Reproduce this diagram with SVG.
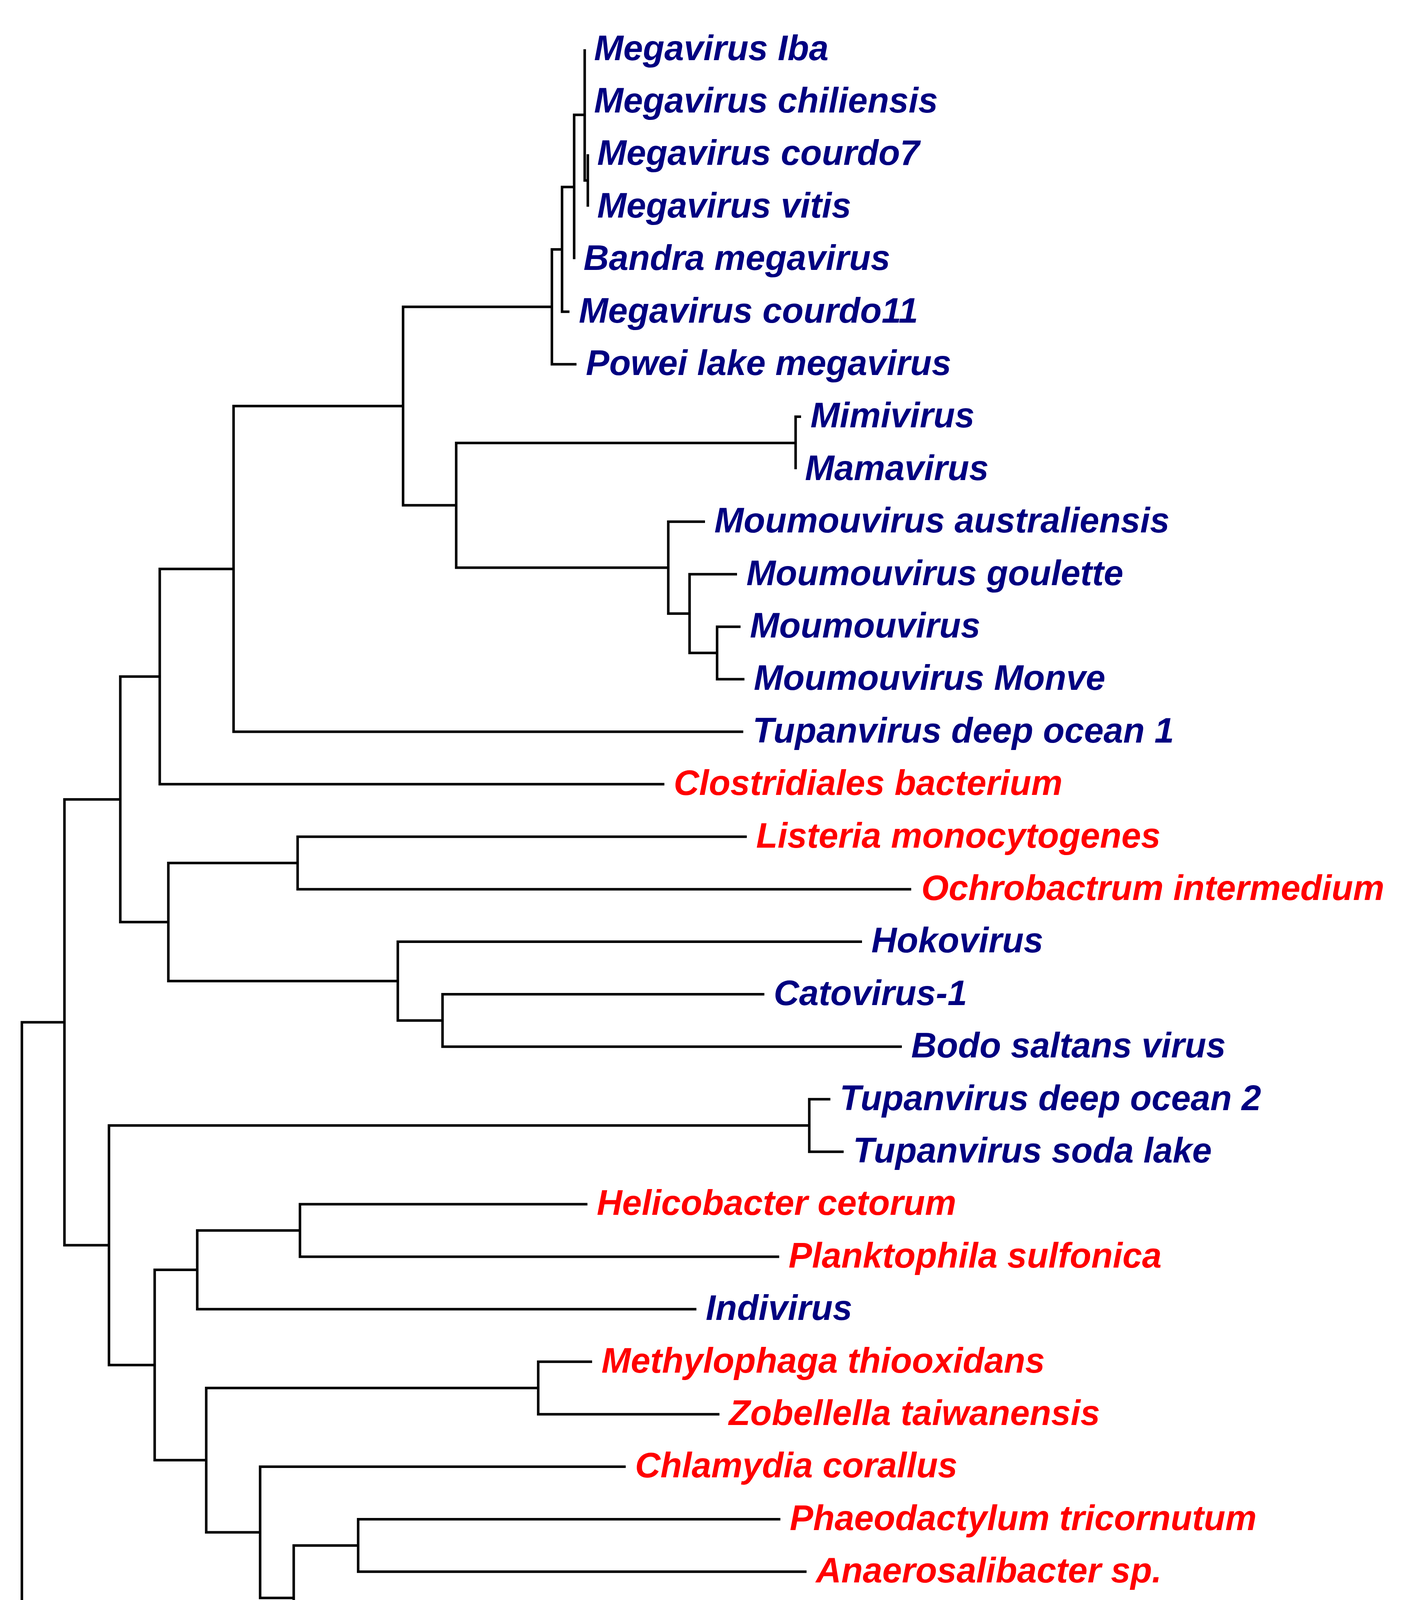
<svg xmlns="http://www.w3.org/2000/svg" width="3651" height="5154" viewBox="0 0 3651 5154">
<style>
.br{fill:none;stroke:#000;stroke-width:6.5;stroke-linejoin:miter;stroke-linecap:butt}
.tk{fill:none;stroke:#000;stroke-width:3.5}
.lb{font-family:"Liberation Sans",Arial,sans-serif;font-weight:bold;font-style:italic;font-size:90px}
.v{fill:#000080}
.b{fill:#FF0000}
.e{fill:#0000FF}
.sc{font-family:"Liberation Sans",Arial,sans-serif;font-size:62px;fill:#000}
</style>
<rect width="3651" height="5154" fill="#fff"/>
<g id="connectors">
<path class="br" d="M165 2617.1 H56 V4544.4 H694"/>
<path class="br" d="M308 2046.5 H165 V3187.8 H279"/>
<path class="br" d="M409 1732 H308 V2360.4 H431"/>
<path class="br" d="M598 1456.4 H409 V2007.6 H1701"/>
<path class="br" d="M1032 1039.5 H598 V1873.2 H1903"/>
<path class="br" d="M1413 785.4 H1032 V1293.6 H1168"/>
<path class="br" d="M1439 638.4 H1413 V932.4 H1476"/>
<path class="br" d="M1470 478.8 H1439 V798 H1458"/>
<path class="br" d="M1497 294 H1470 V663.6"/>
<path class="br" d="M1497 126 V462 H1505"/>
<path class="br" d="M1505 394.8 V529.2"/>
<path class="br" d="M2037 1134 H1168 V1453.2 H1711"/>
<path class="br" d="M2051 1066.8 H2037 V1201.2"/>
<path class="br" d="M1805 1335.6 H1711 V1570.8 H1765.5"/>
<path class="br" d="M1887 1470 H1765.5 V1671.6 H1836"/>
<path class="br" d="M1896 1604.4 H1836 V1738.8 H1906"/>
<path class="br" d="M762 2209.2 H431 V2511.6 H1018.5"/>
<path class="br" d="M1912 2142 H762 V2276.4 H2333"/>
<path class="br" d="M2207 2410.8 H1018.5 V2612.4 H1133"/>
<path class="br" d="M1957 2545.2 H1133 V2679.6 H2309"/>
<path class="br" d="M2072 2881.2 H279 V3494.4 H396"/>
<path class="br" d="M2126 2814 H2072 V2948.4 H2160"/>
<path class="br" d="M505 3250.8 H396 V3738 H528"/>
<path class="br" d="M768 3150 H505 V3351.6 H1783"/>
<path class="br" d="M1504 3082.8 H768 V3217.2 H1995"/>
<path class="br" d="M1378 3553.2 H528 V3922.8 H666"/>
<path class="br" d="M1516 3486 H1378 V3620.4 H1842"/>
<path class="br" d="M1602 3754.8 H666 V4090.8 H752"/>
<path class="br" d="M917 3956.4 H752 V4225.2 H917"/>
<path class="br" d="M1998 3889.2 H917 V4023.6 H2065"/>
<path class="br" d="M1760 4158 H917 V4292.4 H1504"/>
<path class="br" d="M2333 4426.8 H694 V4662 H1006"/>
<path class="br" d="M2310 4561.2 H1006 V4762.8 H1336"/>
<path class="br" d="M2228 4695.6 H1336 V4830 H1823"/>
</g>
<g id="leaf-megavirus-iba"><text class="lb v" x="1521" y="153.5">Megavirus Iba</text></g>
<g id="leaf-megavirus-chiliensis"><text class="lb v" x="1521" y="287.9">Megavirus chiliensis</text></g>
<g id="leaf-megavirus-courdo7"><text class="lb v" x="1529" y="422.3">Megavirus courdo7</text></g>
<g id="leaf-megavirus-vitis"><text class="lb v" x="1529" y="556.7">Megavirus vitis</text></g>
<g id="leaf-bandra-megavirus"><text class="lb v" x="1494" y="691.1">Bandra megavirus</text></g>
<g id="leaf-megavirus-courdo11"><text class="lb v" x="1482" y="825.5">Megavirus courdo11</text></g>
<g id="leaf-powei-lake-megavirus"><text class="lb v" x="1500" y="959.9">Powei lake megavirus</text></g>
<g id="leaf-mimivirus"><text class="lb v" x="2075" y="1094.3">Mimivirus</text></g>
<g id="leaf-mamavirus"><text class="lb v" x="2061" y="1228.7">Mamavirus</text></g>
<g id="leaf-moumouvirus-australiensis"><text class="lb v" x="1829" y="1363.1">Moumouvirus australiensis</text></g>
<g id="leaf-moumouvirus-goulette"><text class="lb v" x="1911" y="1497.5">Moumouvirus goulette</text></g>
<g id="leaf-moumouvirus"><text class="lb v" x="1920" y="1631.9">Moumouvirus</text></g>
<g id="leaf-moumouvirus-monve"><text class="lb v" x="1930" y="1766.3">Moumouvirus Monve</text></g>
<g id="leaf-tupanvirus-deep-ocean-1"><text class="lb v" x="1927" y="1900.7">Tupanvirus deep ocean 1</text></g>
<g id="leaf-clostridiales-bacterium"><text class="lb b" x="1725" y="2035.1">Clostridiales bacterium</text></g>
<g id="leaf-listeria-monocytogenes"><text class="lb b" x="1936" y="2169.5">Listeria monocytogenes</text></g>
<g id="leaf-ochrobactrum-intermedium"><text class="lb b" x="2359" y="2303.9">Ochrobactrum intermedium</text></g>
<g id="leaf-hokovirus"><text class="lb v" x="2231" y="2438.3">Hokovirus</text></g>
<g id="leaf-catovirus-1"><text class="lb v" x="1981" y="2572.7">Catovirus-1</text></g>
<g id="leaf-bodo-saltans-virus"><text class="lb v" x="2333" y="2707.1">Bodo saltans virus</text></g>
<g id="leaf-tupanvirus-deep-ocean-2"><text class="lb v" x="2150" y="2841.5">Tupanvirus deep ocean 2</text></g>
<g id="leaf-tupanvirus-soda-lake"><text class="lb v" x="2184" y="2975.9">Tupanvirus soda lake</text></g>
<g id="leaf-helicobacter-cetorum"><text class="lb b" x="1528" y="3110.3">Helicobacter cetorum</text></g>
<g id="leaf-planktophila-sulfonica"><text class="lb b" x="2019" y="3244.7">Planktophila sulfonica</text></g>
<g id="leaf-indivirus"><text class="lb v" x="1807" y="3379.1">Indivirus</text></g>
<g id="leaf-methylophaga-thiooxidans"><text class="lb b" x="1540" y="3513.5">Methylophaga thiooxidans</text></g>
<g id="leaf-zobellella-taiwanensis"><text class="lb b" x="1866" y="3647.9">Zobellella taiwanensis</text></g>
<g id="leaf-chlamydia-corallus"><text class="lb b" x="1626" y="3782.3">Chlamydia corallus</text></g>
<g id="leaf-phaeodactylum-tricornutum"><text class="lb b" x="2022" y="3916.7">Phaeodactylum tricornutum</text></g>
<g id="leaf-anaerosalibacter-sp"><text class="lb b" x="2089" y="4051.1">Anaerosalibacter sp.</text></g>
<g id="leaf-toxocara-canis"><text class="lb b" x="1784" y="4185.5">Toxocara canis</text></g>
<g id="leaf-paramecium-tetraaurelia"><text class="lb b" x="1528" y="4319.9">Paramecium tetraaurelia</text></g>
<g id="leaf-amev"><text class="lb e" x="2354" y="4454.3">AMEV</text></g>
<g id="leaf-helicoverpa-armigera"><text class="lb b" x="2334" y="4588.7">Helicoverpa armigera</text></g>
<g id="leaf-onthophagus-taurus"><text class="lb b" x="2252" y="4723.1">Onthophagus taurus</text></g>
<g id="leaf-acev"><text class="lb e" x="1847" y="4857.5">ACEV</text></g>
<g id="scale-bar">
<path class="br" d="M340 5020 H861"/>
<path class="tk" d="M340 4995 V5045 M861 4995 V5045"/>
<text class="sc" x="600" y="5105" text-anchor="middle">0.50</text>
</g>
</svg>
